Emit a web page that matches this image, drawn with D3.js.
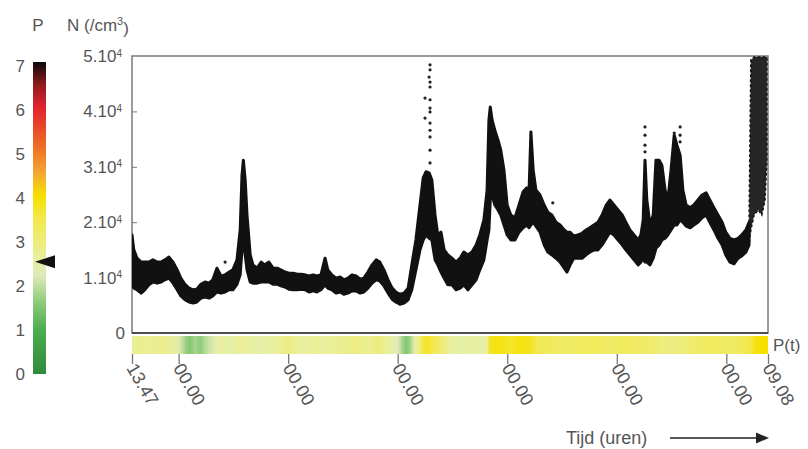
<!DOCTYPE html>
<html>
<head>
<meta charset="utf-8">
<script src="https://cdn.jsdelivr.net/npm/d3@7"></script>
<style>
  body { margin: 0; background: #fff; }
  text { font-family: "Liberation Sans", Arial, sans-serif; fill: #555; }
</style>
</head>
<body>
<svg id="chart" width="808" height="449"></svg>
<script>
// time in hours since 13.47, N in 10^3 per cm3 (band of dense points: low/high edge)
const hours = [0, 0.4, 1.1, 2.0, 2.8, 3.7, 4.6, 5.5, 6.4, 7.2, 8.1, 9.0, 9.9, 10.7, 11.6, 12.5, 13.4, 14.2, 15.1, 16.0,
  16.9, 17.7, 18.6, 19.5, 20.4, 21.3, 22.1, 23.0, 23.7, 24.1, 24.4, 24.8, 25.2, 25.9, 26.5, 27.4, 28.3, 29.1, 30.0, 30.9,
  31.8, 32.6, 33.5, 34.4, 35.3, 36.2, 37.0, 37.9, 38.8, 39.7, 40.5, 41.4, 42.3, 42.9, 43.8, 44.7, 45.6, 46.4, 47.3, 48.2,
  49.1, 50.0, 50.8, 51.7, 52.6, 53.5, 54.3, 55.2, 56.1, 57.0, 57.8, 58.7, 59.6, 60.5, 61.3, 62.2, 63.1, 63.8, 64.4, 65.1,
  65.7, 66.4, 67.0, 67.7, 68.4, 69.2, 70.1, 71.0, 71.9, 72.7, 73.6, 74.5, 75.4, 76.2, 77.1, 77.8, 78.2, 78.5, 78.9, 79.5,
  80.2, 80.8, 81.5, 82.2, 83.0, 83.9, 84.8, 85.7, 86.5, 87.0, 87.4, 87.9, 88.5, 89.4, 90.3, 91.1, 92.0, 92.9, 93.8, 94.7,
  95.3, 96.0, 96.8, 97.7, 98.6, 99.5, 100.3, 101.2, 102.1, 103.0, 103.9, 104.7, 105.6, 106.5, 107.4, 108.2, 109.1, 110.0, 110.9, 111.5,
  112.0, 112.4, 112.8, 113.5, 114.2, 114.8, 115.5, 116.1, 116.8, 117.4, 118.1, 118.8, 119.4, 120.1, 120.7, 121.4, 122.3, 123.1, 124.0, 124.9,
  125.8, 126.6, 127.5, 128.4, 129.3, 130.1, 131.0, 131.9, 132.8, 133.6, 134.5, 135.2];
const nHigh = [17.7, 15.0, 13.5, 12.8, 12.8, 12.8, 13.2, 12.8, 12.8, 13.2, 13.7, 12.8, 11.4, 9.9, 8.8, 8.1, 7.8, 7.9, 8.8, 9.2,
  9.0, 9.6, 11.7, 10.3, 10.5, 11.0, 11.4, 13.2, 18.6, 28.5, 31.2, 27.6, 21.3, 14.1, 12.3, 11.7, 12.8, 12.3, 12.8, 11.7,
  11.7, 11.4, 11.0, 10.8, 10.8, 10.6, 10.6, 10.5, 10.3, 10.5, 10.3, 10.5, 13.5, 11.4, 10.5, 9.9, 10.1, 9.6, 9.9, 10.5,
  10.3, 9.7, 9.9, 11.0, 12.3, 13.2, 12.8, 11.4, 9.6, 8.1, 7.4, 7.0, 7.2, 8.1, 12.3, 16.8, 23.1, 28.0, 29.1, 28.9,
  27.6, 21.3, 17.7, 18.2, 15.0, 14.1, 13.5, 12.8, 13.5, 14.6, 14.1, 14.6, 15.9, 17.7, 20.4, 25.8, 38.4, 40.8, 38.4, 36.6,
  34.8, 33.0, 29.4, 23.1, 21.3, 20.8, 23.1, 25.5, 26.2, 25.8, 36.3, 29.4, 25.8, 24.9, 23.1, 21.8, 21.3, 20.0, 19.5, 18.6,
  18.2, 18.2, 17.5, 17.7, 18.0, 18.6, 19.0, 19.5, 20.0, 21.3, 23.1, 24.0, 23.1, 22.2, 21.3, 20.0, 18.6, 17.7, 16.8, 17.7,
  20.4, 31.2, 24.0, 19.5, 21.3, 31.2, 31.2, 30.3, 25.8, 24.0, 29.4, 35.7, 33.9, 32.1, 25.8, 23.1, 22.6, 23.1, 24.0, 24.9,
  25.3, 24.0, 22.6, 21.3, 20.0, 18.2, 17.1, 16.8, 17.1, 17.7, 18.6, 20.0];
const nLow = [8.7, 8.1, 7.8, 7.2, 7.8, 8.7, 9.2, 9.0, 9.2, 9.6, 9.9, 9.0, 7.8, 6.7, 6.0, 5.6, 5.4, 5.6, 6.3, 6.5,
  6.3, 6.7, 7.4, 7.2, 7.4, 7.8, 7.8, 8.8, 10.5, 15.0, 17.7, 14.1, 11.4, 9.2, 9.0, 9.0, 9.2, 9.2, 9.2, 8.8,
  8.8, 8.5, 8.3, 7.9, 7.8, 7.8, 7.9, 7.8, 7.4, 7.6, 7.4, 7.8, 8.7, 8.1, 7.8, 7.2, 7.4, 7.0, 7.2, 7.6,
  7.6, 7.2, 7.4, 8.1, 9.0, 9.6, 9.4, 8.5, 7.2, 6.1, 5.6, 5.2, 5.4, 6.0, 7.8, 11.4, 15.0, 16.8, 17.7, 17.1,
  16.8, 13.2, 12.3, 11.0, 9.9, 8.7, 8.7, 7.8, 8.1, 8.7, 7.8, 8.7, 9.6, 11.4, 13.2, 16.8, 18.6, 24.0, 24.9, 23.1,
  22.2, 21.3, 19.5, 17.7, 16.8, 16.8, 18.2, 19.0, 19.5, 19.0, 19.5, 20.0, 19.3, 18.2, 15.9, 14.6, 14.1, 13.5, 12.8, 11.7,
  11.0, 12.3, 13.5, 13.5, 13.5, 14.1, 14.6, 15.0, 15.0, 15.9, 17.1, 18.2, 17.7, 16.8, 15.9, 15.0, 14.1, 13.2, 12.3, 12.8,
  13.5, 12.8, 12.8, 12.3, 13.5, 15.3, 15.9, 16.8, 17.1, 17.7, 18.6, 19.5, 19.5, 20.4, 20.0, 19.3, 19.0, 19.5, 20.0, 20.8,
  21.3, 20.0, 18.6, 17.1, 15.9, 14.1, 12.8, 12.5, 13.5, 13.9, 14.6, 15.9];

// last stretch: widely scattered points
const endHours = [135.2, 135.6, 136.3, 137.2, 138.0, 138.7, 139.1];
const endHigh = [20.0, 49.3, 49.8, 49.8, 49.8, 49.8, 49.8];
const endLow = [15.9, 18.6, 21.3, 22.2, 21.3, 24.0, 31.2];

// isolated points above the band
const dotHours = [65.3, 65.3, 65.1, 65.3, 65.3, 64.2, 65.3, 65.3, 65.3, 64.2, 65.3, 65.3, 65.3, 65.3, 65.3,
  20.4, 92.2, 112.4, 112.4, 112.4, 112.4, 120.1, 120.1, 120.1, 118.8];
const dotN = [48.4, 47.5, 46.2, 45.3, 44.4, 42.4, 42.1, 40.6, 39.9, 38.8, 37.9, 36.6, 35.4, 33.0, 30.7,
  12.8, 23.5, 37.2, 35.7, 33.9, 32.7, 37.2, 35.7, 34.5, 36.1];

// P(t) strip
const pHours = [0, 1.8, 3.9, 6.1, 8.3, 10.1, 11.0, 11.8, 12.7, 13.8, 14.9, 16.0, 17.1, 18.2, 19.7, 21.5, 23.7, 25.9, 28.0, 30.2,
  32.4, 34.2, 35.7, 37.9, 40.1, 42.3, 44.5, 46.7, 48.9, 50.4, 52.2, 53.9, 55.5, 57.0, 58.3, 59.2, 60.1, 61.0, 61.8, 63.1,
  64.4, 65.7, 67.0, 68.6, 70.1, 71.9, 74.1, 76.2, 77.8, 78.4, 80.6, 82.8, 85.0, 87.2, 88.7, 91.6, 94.9, 98.2, 101.4, 104.7,
  108.0, 111.3, 114.6, 116.8, 118.9, 121.1, 123.8, 126.6, 129.9, 133.2, 135.4, 136.5, 138.0, 139.35];
const pVals = [2.7, 2.8, 2.7, 2.8, 2.7, 2.4, 2.0, 1.7, 1.5, 1.8, 1.6, 1.9, 2.1, 2.4, 2.6, 2.5, 2.7, 2.6, 2.5, 2.6,
  2.7, 2.9, 2.7, 2.6, 2.7, 2.6, 2.7, 2.8, 2.9, 2.8, 2.7, 3.0, 2.7, 2.5, 2.2, 1.8, 1.5, 1.8, 2.4, 3.0,
  3.8, 3.5, 3.2, 2.9, 2.6, 2.5, 2.6, 2.5, 2.6, 3.8, 3.9, 3.7, 3.9, 3.8, 3.4, 3.3, 3.2, 3.3, 3.3, 3.2,
  3.3, 3.2, 3.1, 2.9, 2.9, 3.0, 3.2, 3.3, 3.2, 3.3, 3.5, 3.9, 4.0, 4.0];

const yTicks = [0, 10, 20, 30, 40, 50];
const yTickMant = ["0", "1.10", "2.10", "3.10", "4.10", "5.10"];
const xTickHours = [0, 10.22, 34.22, 58.22, 82.22, 106.22, 130.22, 139.35];
const xTickLabels = ["13.47", "00.00", "00.00", "00.00", "00.00", "00.00", "00.00", "09.08"];
const pTicks = [0, 1, 2, 3, 4, 5, 6, 7];
const pMarker = 2.55;
const pStops = [0, 1, 1.6, 2.2, 2.6, 3, 3.5, 4, 4.5, 5, 5.5, 6, 6.5, 7];
const pColors = ["#2e8a3c", "#4dae4f", "#8ccb78", "#dde9b8", "#e8efa0", "#eeec78", "#f2e84a", "#f6e000",
  "#f4a830", "#ef7826", "#e94a2a", "#e0222e", "#8e1a1c", "#0a0a0a"];

const svg = d3.select("#chart");
const margin = { top: 56, right: 40, bottom: 116, left: 132 };
const W = 808, H = 449;
const x = d3.scaleLinear().domain([0, 139.35]).range([margin.left, W - margin.right]);
const y = d3.scaleLinear().domain([0, 50]).range([H - margin.bottom, margin.top]);
const pColor = d3.scaleLinear().domain(pStops).range(pColors);
const pY = d3.scaleLinear().domain([0, 7]).range([374, 66]);

const defs = svg.append("defs");
defs.append("clipPath").attr("id", "plotclip")
  .append("rect").attr("x", margin.left).attr("y", margin.top)
  .attr("width", x.range()[1] - margin.left).attr("height", y(0) - margin.top);

// frame
svg.append("rect")
  .attr("x", margin.left).attr("y", margin.top)
  .attr("width", x.range()[1] - margin.left).attr("height", y(0) - margin.top)
  .attr("fill", "#fff").attr("stroke", "#7a7a7a").attr("stroke-width", 1.5);

// y ticks (inside)
svg.append("g")
  .attr("transform", `translate(${margin.left},0)`)
  .call(d3.axisLeft(y).tickValues(yTicks.slice(1, 5)).tickSizeInner(-5).tickSizeOuter(0).tickFormat(""))
  .call(g => g.select(".domain").remove())
  .selectAll("line").attr("stroke", "#7a7a7a");

// y labels with superscript
const yl = svg.append("g").selectAll("text").data(yTicks).enter().append("text")
  .attr("x", d => d === 0 ? 125 : 122)
  .attr("y", d => y(d) + 6)
  .attr("text-anchor", "end")
  .style("font-size", "17px");
yl.append("tspan").text((d, i) => yTickMant[i]);
yl.filter(d => d > 0).append("tspan").attr("dy", "-0.55em").style("font-size", "10px").text("4");

// data band
const plot = svg.append("g").attr("clip-path", "url(#plotclip)");
const band = d3.area().x(d => x(d[0])).y0(d => y(d[1])).y1(d => y(d[2]));
plot.append("path")
  .datum(hours.map((h, i) => [h, nLow[i], nHigh[i]]))
  .attr("d", band)
  .attr("fill", "#111").attr("stroke", "#111").attr("stroke-width", 3).attr("stroke-linejoin", "round");
plot.append("path")
  .datum(endHours.map((h, i) => [h, endLow[i], endHigh[i]]))
  .attr("d", band)
  .attr("fill", "#151515").attr("fill-opacity", 0.93)
  .attr("stroke", "#151515").attr("stroke-width", 1.5).attr("stroke-dasharray", "3,2");

plot.selectAll(".dot").data(d3.range(dotHours.length)).enter().append("circle")
  .attr("class", "dot")
  .attr("cx", i => x(dotHours[i])).attr("cy", i => y(dotN[i]))
  .attr("r", 1.6).attr("fill", "#222");

// bottom line
svg.append("line")
  .attr("x1", margin.left).attr("x2", x.range()[1])
  .attr("y1", y(0)).attr("y2", y(0))
  .attr("stroke", "#333").attr("stroke-width", 1.5);

// P(t) strip
const grad = defs.append("linearGradient").attr("id", "pgrad")
  .attr("x1", "0").attr("x2", "1").attr("y1", "0").attr("y2", "0");
grad.selectAll("stop").data(pHours).enter().append("stop")
  .attr("offset", d => (x(d) - margin.left) / (x.range()[1] - margin.left))
  .attr("stop-color", (d, i) => pColor(pVals[i]));
svg.append("rect")
  .attr("x", margin.left).attr("y", 336)
  .attr("width", x.range()[1] - margin.left).attr("height", 18)
  .attr("fill", "url(#pgrad)");
svg.append("text").attr("x", 773).attr("y", 351).style("font-size", "17px").text("P(t)");

// x ticks
svg.append("g")
  .attr("transform", "translate(0,354)")
  .call(d3.axisBottom(x).tickValues(xTickHours).tickSizeInner(10).tickSizeOuter(0).tickFormat(""))
  .call(g => g.select(".domain").remove())
  .selectAll("line").attr("stroke", "#777").attr("stroke-width", 1.3);

svg.append("g").selectAll("text").data(xTickHours).enter().append("text")
  .attr("transform", d => `translate(${x(d) - 6},368) rotate(60)`)
  .attr("text-anchor", "start")
  .style("font-size", "18px")
  .text((d, i) => xTickLabels[i]);

// time label and arrow
svg.append("text").attr("x", 566).attr("y", 444).style("font-size", "18px").text("Tijd (uren)");
svg.append("line").attr("x1", 670).attr("x2", 758).attr("y1", 438).attr("y2", 438)
  .attr("stroke", "#222").attr("stroke-width", 1.3);
svg.append("path").attr("d", "M756,432.5 L769,438 L756,443.5 Z").attr("fill", "#222");

// colour bar
const cgrad = defs.append("linearGradient").attr("id", "cgrad")
  .attr("x1", "0").attr("x2", "0").attr("y1", "1").attr("y2", "0");
cgrad.selectAll("stop").data(pStops).enter().append("stop")
  .attr("offset", d => d / 7)
  .attr("stop-color", (d, i) => pColors[i]);
svg.append("rect")
  .attr("x", 33).attr("y", pY(7) - 4).attr("width", 13).attr("height", pY(0) - pY(7) + 4)
  .attr("fill", "url(#cgrad)");
svg.append("g").selectAll("text").data(pTicks).enter().append("text")
  .attr("x", 25).attr("y", d => pY(d) + 6)
  .attr("text-anchor", "end")
  .style("font-size", "17px")
  .text(d => d);
svg.append("path")
  .attr("d", `M35,${pY(pMarker)} L55,${pY(pMarker) - 6.5} L55,${pY(pMarker) + 6.5} Z`)
  .attr("fill", "#111");

// headers
svg.append("text").attr("x", 38).attr("y", 31).attr("text-anchor", "middle").style("font-size", "17px").text("P");
const nh = svg.append("text").attr("x", 67).attr("y", 31).style("font-size", "17px");
nh.append("tspan").text("N (/cm");
nh.append("tspan").attr("dy", "-0.55em").style("font-size", "11px").text("3");
nh.append("tspan").attr("dy", "0.55em").text(")");
</script>
</body>
</html>
